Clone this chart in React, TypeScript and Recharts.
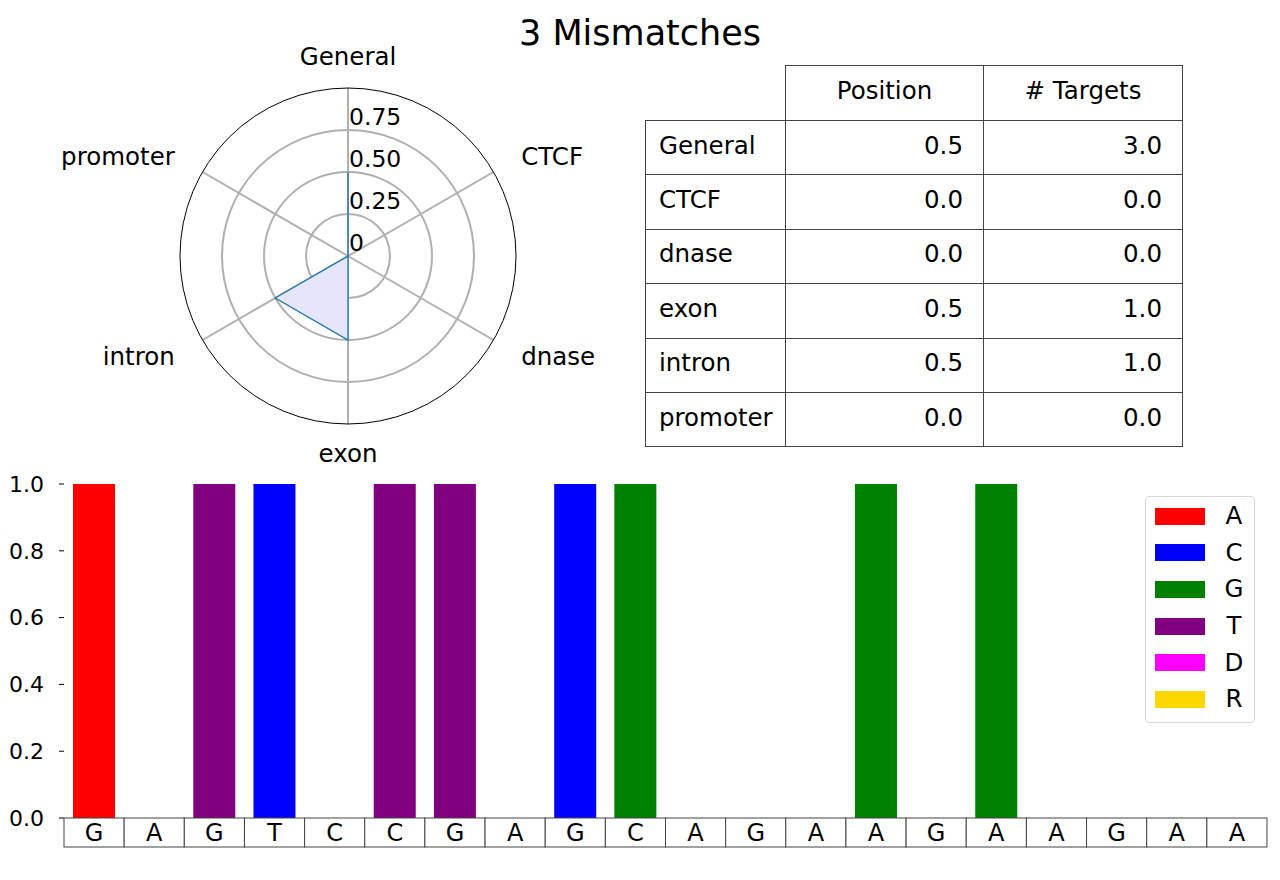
import React from "react";
import {
  RadarChart,
  Radar,
  PolarGrid,
  PolarAngleAxis,
  PolarRadiusAxis,
  BarChart,
  Bar,
  XAxis,
  YAxis,
} from "recharts";

const FONT = "'DejaVu Sans', sans-serif";

// radar + table
const categories = ["General", "CTCF", "dnase", "exon", "intron", "promoter"];
const positionScores = [0.5, 0.0, 0.0, 0.5, 0.5, 0.0];
const targetCounts = [3.0, 0.0, 0.0, 1.0, 1.0, 0.0];
const radiusTicks = [0, 0.25, 0.5, 0.75];
const radiusTickLabels = ["0", "0.25", "0.50", "0.75"];

// mismatch bars
const sequence = ["G", "A", "G", "T", "C", "C", "G", "A", "G", "C", "A", "G", "A", "A", "G", "A", "A", "G", "A", "A"];
const bases = ["A", "C", "G", "T", "D", "R"];
const baseColors = ["#ff0000", "#0000ff", "#008000", "#800080", "#ff00ff", "#ffd700"];
const hitsA = [1, 0, 0, 0, 0, 0, 0, 0, 0, 0, 0, 0, 0, 0, 0, 0, 0, 0, 0, 0];
const hitsC = [0, 0, 0, 1, 0, 0, 0, 0, 1, 0, 0, 0, 0, 0, 0, 0, 0, 0, 0, 0];
const hitsG = [0, 0, 0, 0, 0, 0, 0, 0, 0, 1, 0, 0, 0, 1, 0, 1, 0, 0, 0, 0];
const hitsT = [0, 0, 1, 0, 0, 1, 1, 0, 0, 0, 0, 0, 0, 0, 0, 0, 0, 0, 0, 0];
const hitsD = [0, 0, 0, 0, 0, 0, 0, 0, 0, 0, 0, 0, 0, 0, 0, 0, 0, 0, 0, 0];
const hitsR = [0, 0, 0, 0, 0, 0, 0, 0, 0, 0, 0, 0, 0, 0, 0, 0, 0, 0, 0, 0];
const yTicks = [0, 0.2, 0.4, 0.6, 0.8, 1.0];

const radarData = categories.map((name, i) => ({ name, value: positionScores[i] }));

const hitSeries = [hitsA, hitsC, hitsG, hitsT, hitsD, hitsR];
const barData = sequence.map((letter, i) => {
  const row: Record<string, any> = { pos: i, letter };
  bases.forEach((b, j) => (row[b] = hitSeries[j][i]));
  return row;
});

const RADAR_CX = 348;
const RADAR_CY = 256;

const AngleTick = (props: any) => {
  const { x, y, payload } = props;
  const anchor = Math.abs(x - RADAR_CX) < 1 ? "middle" : x > RADAR_CX ? "start" : "end";
  // bottom label sits a little closer to the circle
  const dy = anchor === "middle" && y > RADAR_CY ? -3 : 0;
  return (
    <text x={x} y={y + dy} textAnchor={anchor} dominantBaseline="central" fontSize={24.5} fontFamily={FONT} fill="#000">
      {payload.value}
    </text>
  );
};

const RadiusTick = (props: any) => {
  const { x, y, payload, index } = props;
  return (
    <text x={x + 1} y={y - 5} textAnchor="start" fontSize={23.5} fontFamily={FONT} fill="#000">
      {radiusTickLabels[index] ?? payload.value}
    </text>
  );
};

const BAND = 1203 / sequence.length;

const SeqTick = (props: any) => {
  const { x, y, payload } = props;
  return (
    <g>
      <rect x={x - BAND / 2} y={y} width={BAND} height={29} fill="#fff" stroke="#444" strokeWidth={1} />
      <text x={x} y={y + 15} textAnchor="middle" dominantBaseline="central" fontSize={24} fontFamily={FONT} fill="#000">
        {sequence[payload.value]}
      </text>
    </g>
  );
};

const cell: React.CSSProperties = {
  border: "1px solid #444",
  padding: 0,
  paddingBottom: 5,
  fontSize: 24.5,
  fontFamily: FONT,
  color: "#000",
};

export default function App() {
  return (
    <div style={{ position: "absolute", left: 0, top: 0, width: 1280, height: 880, background: "#fff", fontFamily: FONT }}>
      <div style={{ position: "absolute", left: 0, top: 12, width: 1280, textAlign: "center", fontSize: 35, lineHeight: "42px" }}>
        3 Mismatches
      </div>

      <div style={{ position: "absolute", left: 0, top: 0 }}>
        <RadarChart width={700} height={470} data={radarData} cx={348} cy={256} outerRadius={168} margin={{ top: 0, right: 0, bottom: 0, left: 0 }}>
          <PolarGrid gridType="circle" stroke="#b0b0b0" strokeWidth={2} />
          <PolarAngleAxis
            dataKey="name"
            tick={<AngleTick />}
            tickLine={false}
            tickSize={32}
            axisLine={{ stroke: "#000", strokeWidth: 1 }}
            axisLineType="circle"
          />
          <PolarRadiusAxis angle={90} domain={[0, 1]} ticks={radiusTicks} axisLine={false} tick={<RadiusTick />} />
          <Radar dataKey="value" stroke="#1f77b4" strokeWidth={1.3} fill="#e6e6fa" fillOpacity={1} isAnimationActive={false} />
        </RadarChart>
      </div>

      <table style={{ position: "absolute", left: 645, top: 65, borderCollapse: "collapse", tableLayout: "fixed", width: 538 }}>
        <colgroup>
          <col style={{ width: 140 }} />
          <col style={{ width: 198 }} />
          <col style={{ width: 199 }} />
        </colgroup>
        <tbody>
          <tr style={{ height: 55 }}>
            <td style={{ ...cell, border: "none" }}></td>
            <td style={{ ...cell, textAlign: "center" }}>Position</td>
            <td style={{ ...cell, textAlign: "center" }}># Targets</td>
          </tr>
          {categories.map((c, i) => (
            <tr key={c} style={{ height: 54.4 }}>
              <td style={{ ...cell, paddingLeft: 13 }}>{c}</td>
              <td style={{ ...cell, textAlign: "right", paddingRight: 20 }}>{positionScores[i].toFixed(1)}</td>
              <td style={{ ...cell, textAlign: "right", paddingRight: 20 }}>{targetCounts[i].toFixed(1)}</td>
            </tr>
          ))}
        </tbody>
      </table>

      <div style={{ position: "absolute", left: 0, top: 460 }}>
        <BarChart width={1280} height={420} data={barData} margin={{ top: 24, right: 13, bottom: 32, left: 0 }} barSize={42}>
          <XAxis dataKey="pos" height={30} axisLine={false} tickLine={false} tickSize={0} tickMargin={0} tick={<SeqTick />} interval={0} />
          <YAxis
            width={64}
            domain={[0, 1]}
            ticks={yTicks}
            axisLine={false}
            tickSize={5}
            tickMargin={15}
            tickLine={{ stroke: "#000" }}
            tickFormatter={(v: number) => v.toFixed(1)}
            tick={{ fill: "#000", fontSize: 22, fontFamily: FONT }}
          />
          {bases.map((b, j) => (
            <Bar key={b} dataKey={b} name={b} stackId="s" fill={baseColors[j]} isAnimationActive={false} />
          ))}
        </BarChart>
      </div>

      <div
        style={{
          position: "absolute",
          left: 1145,
          top: 496,
          width: 108,
          height: 224,
          border: "1px solid #d9d9d9",
          borderRadius: 4,
          background: "#fff",
          paddingTop: 1,
        }}
      >
        {bases.map((b, j) => (
          <div key={b} style={{ height: 36.6, display: "flex", alignItems: "center" }}>
            <div style={{ marginLeft: 9, width: 50, height: 17, background: baseColors[j] }} />
            <div style={{ marginLeft: 18, width: 22, textAlign: "center", fontSize: 24.5, lineHeight: "28px" }}>{b}</div>
          </div>
        ))}
      </div>
    </div>
  );
}
